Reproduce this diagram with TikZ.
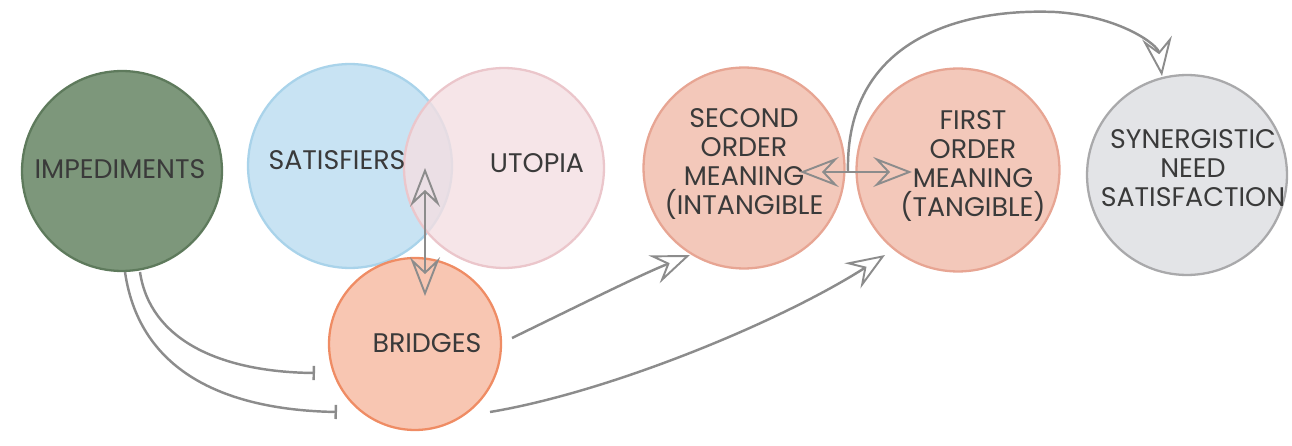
\documentclass[tikz,border=0pt]{standalone}
\usepackage{fontspec}
\setmainfont{Poppins}
\usepackage{tikz}
\usetikzlibrary{arrows.meta}

\definecolor{impfill}{HTML}{7D977B}
\definecolor{impline}{HTML}{5E7A5C}
\definecolor{satfill}{HTML}{C8E3F3}
\definecolor{satline}{HTML}{A9D3EA}
\definecolor{utofill}{HTML}{F4DFE2}
\definecolor{utoline}{HTML}{EBC6CB}
\definecolor{brifill}{HTML}{F8C6B2}
\definecolor{briline}{HTML}{EF8C64}
\definecolor{mngfill}{HTML}{F3C8BA}
\definecolor{mngline}{HTML}{E7A593}
\definecolor{synfill}{HTML}{E3E4E7}
\definecolor{synline}{HTML}{A9A9AB}
\definecolor{arrgray}{HTML}{8C8C8C}
\definecolor{txtgray}{HTML}{3A3A3A}

\begin{document}
\begin{tikzpicture}[
  x=0.02cm, y=-0.02cm,
  >={Stealth[open, length=22pt, width=17pt, inset=8pt, line width=1.1pt]},
  blob/.style={circle, draw, line width=1.3pt, inner sep=0pt},
  txt/.style={align=center, text=txtgray, font=\fontsize{15.3}{16.5}\selectfont},
  arr/.style={draw=arrgray, line width=1.4pt},
  stop/.style={draw=arrgray, line width=1.4pt, -{Bar[width=8pt, line width=1.4pt]}}
]
\useasboundingbox (0,0) rectangle (1292,446);

% circles
\node[blob, fill=impfill, draw=impline, minimum size=4cm] (imp) at (122,171) {};
\node[blob, fill=satfill, draw=satline, minimum size=4.08cm] (sat) at (350,166) {};
\node[blob, fill=utofill, draw=utoline, fill opacity=0.8, minimum size=4cm] (uto) at (504,168) {};
\node[blob, fill=brifill, draw=briline, minimum size=3.44cm] (bri) at (415,344) {};
\node[blob, fill=mngfill, draw=mngline, minimum size=4.02cm] (sec) at (744,168) {};
\node[blob, fill=mngfill, draw=mngline, minimum size=4.06cm] (fir) at (958,170) {};
\node[blob, fill=synfill, draw=synline, minimum size=4cm] (syn) at (1187,175) {};

% labels
\node[txt] (impt) at (120,169) {IMPEDIMENTS};
\node[txt] (satt) at (337,160) {SATISFIERS};
\node[txt] (utot) at (537,163) {UTOPIA};
\node[txt] (brit) at (427,343) {BRIDGES};
\node[txt] (sect) at (744,164) {SECOND\\ORDER\\MEANING\\(INTANGIBLE};
\node[txt] (firt) at (973,166) {FIRST\\ORDER\\MEANING\\(TANGIBLE)};
\node[txt] (synt) at (1193,168) {SYNERGISTIC\\NEED\\SATISFACTION};

% connector ends
\coordinate (up) at (425,168);
\coordinate (dn) at (425,296);
\coordinate (i1) at (140,272);
\coordinate (i2) at (125,272);
\coordinate (b1) at (315,373);
\coordinate (b2) at (337,412);
\coordinate (bs) at (512,338);
\coordinate (bf) at (490,412);
\coordinate (s1) at (690,255);
\coordinate (f1) at (885,255);
\coordinate (ml) at (800,172);
\coordinate (mr) at (912,172);
\coordinate (mm) at (848,172);
\coordinate (top) at (1055,12);
\coordinate (sy) at (1162,76);

\draw[arr, <->] (up) -- (dn);
\draw[stop] (i1) .. controls (150,340) and (220,372) .. (b1);
\draw[stop] (i2) .. controls (140,375) and (230,410) .. (b2);
\draw[arr, ->] (bs) .. controls (580,305) and (640,275) .. (s1);
\draw[arr, ->] (bf) .. controls (610,392) and (780,322) .. (f1);
\draw[arr, <->] (ml) -- (mr);
\draw[arr, ->] (mm) .. controls (845,40) and (960,8) .. (top) .. controls (1120,16) and (1158,45) .. (sy);
\end{tikzpicture}
\end{document}
